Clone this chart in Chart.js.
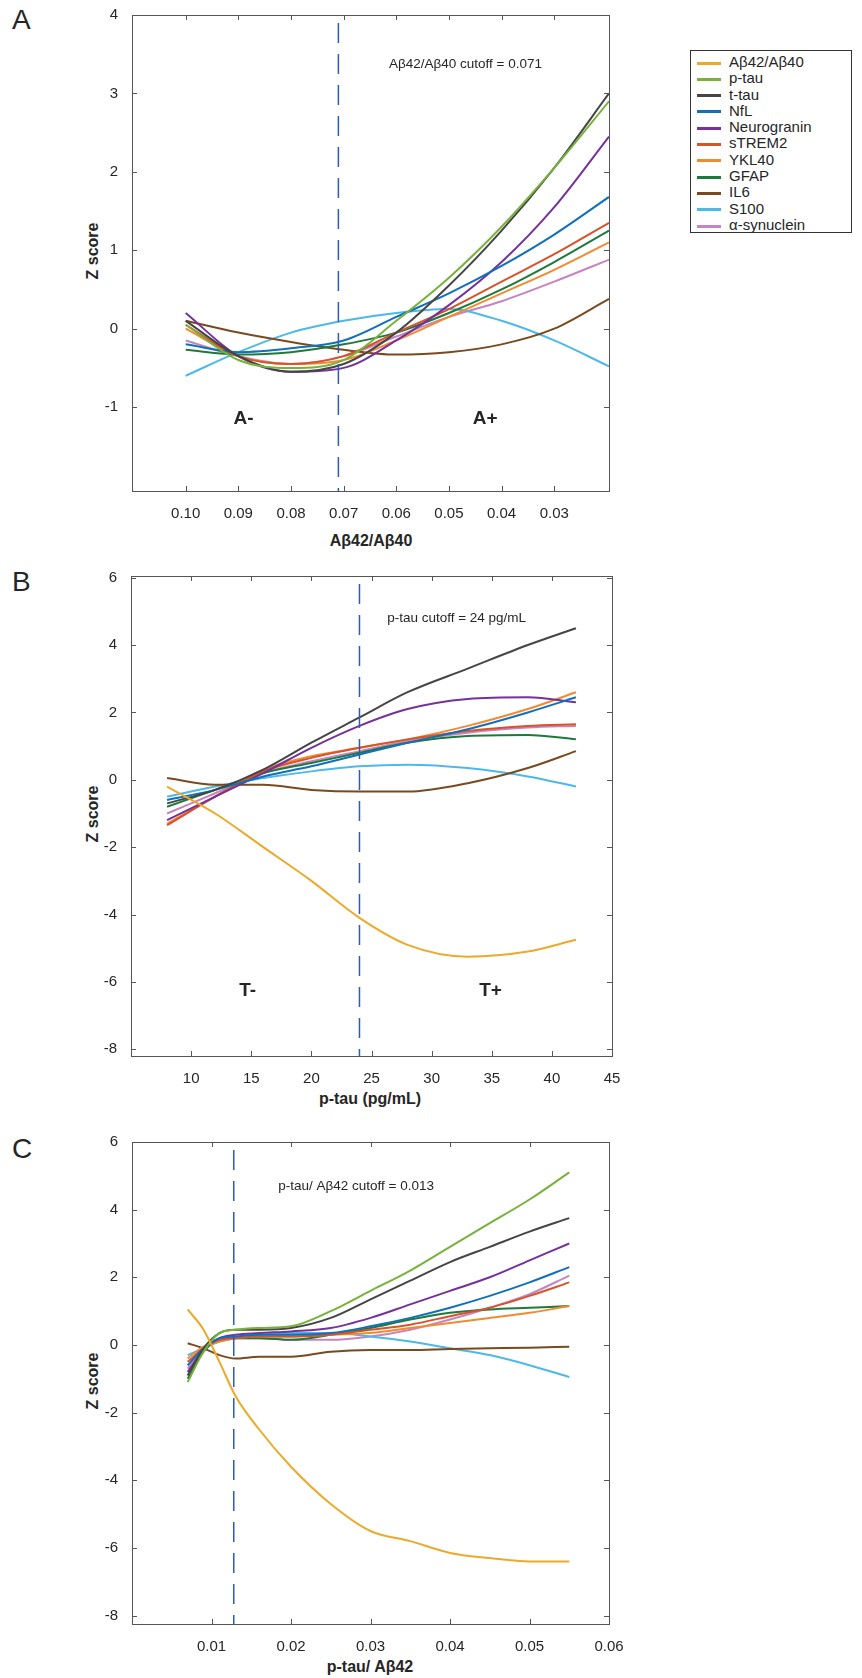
<!DOCTYPE html>
<html>
<head>
<meta charset="utf-8">
<script src="https://cdn.jsdelivr.net/npm/chart.js@4"></script>
<style>
  body { margin: 0; background: #fff; font-family: "Liberation Sans", Arial, sans-serif; color: #262626; }
  canvas { position: absolute; left: 0; }
  .lbl { position: absolute; font-size: 28px; }
  .ztitle { position: absolute; font-weight: bold; font-size: 16px; transform: translate(-50%, -50%) rotate(-90deg); white-space: nowrap; }
  .xtitle { position: absolute; font-weight: bold; font-size: 16px; transform: translate(-50%, -50%); white-space: nowrap; }
  #legend { position: absolute; left: 690px; top: 50px; width: 162px; height: 183px; border: 1px solid #333; box-sizing: border-box; padding: 3px 0 0 6px; }
  .li { height: 16.3px; font-size: 15px; line-height: 16.3px; white-space: nowrap; }
  .li span { display: inline-block; width: 24px; height: 3px; vertical-align: middle; margin-right: 8px; }
</style>
</head>
<body>
<div class="lbl" style="left:12px;top:4px">A</div>
<div class="lbl" style="left:12px;top:566px">B</div>
<div class="lbl" style="left:12px;top:1133px">C</div>
<div class="ztitle" style="left:93px;top:251px">Z score</div>
<div class="ztitle" style="left:93px;top:814px">Z score</div>
<div class="ztitle" style="left:93px;top:1381px">Z score</div>
<div class="xtitle" style="left:371px;top:541px">Aβ42/Aβ40</div>
<div class="xtitle" style="left:370px;top:1099px">p-tau (pg/mL)</div>
<div class="xtitle" style="left:370px;top:1667px">p-tau/ Aβ42</div>
<div id="legend"></div>
<canvas id="chartA" width="640" height="525" style="top:0px"></canvas>
<canvas id="chartB" width="640" height="546" style="top:540px"></canvas>
<canvas id="chartC" width="640" height="554" style="top:1100px"></canvas>
<script>
var names = ["Aβ42/Aβ40", "p-tau", "t-tau", "NfL", "Neurogranin", "sTREM2", "YKL40", "GFAP", "IL6", "S100", "α-synuclein"];
var colors = ["#EDA929", "#77B23A", "#454545", "#1170BA", "#74329A", "#D9532A", "#F28A30", "#1E7A3C", "#7A4A1E", "#4DB8EA", "#C585C2"];

// Panel A: x = Aβ42/Aβ40 (reversed axis)
var xA = [0.10, 0.09, 0.08, 0.07, 0.06, 0.05, 0.04, 0.03, 0.0196];
var aPtau = [0.05, -0.4, -0.5, -0.4, 0.1, 0.65, 1.3, 2.05, 2.9];
var aTtau = [0.1, -0.35, -0.55, -0.45, -0.05, 0.55, 1.25, 2.05, 3.0];
var aNfl = [-0.2, -0.3, -0.25, -0.15, 0.15, 0.45, 0.8, 1.2, 1.68];
var aNgrn = [0.2, -0.35, -0.55, -0.5, -0.15, 0.3, 0.85, 1.55, 2.45];
var aTrem = [0.05, -0.35, -0.45, -0.35, -0.05, 0.25, 0.6, 0.95, 1.35];
var aYkl = [0.0, -0.35, -0.45, -0.4, -0.15, 0.15, 0.45, 0.75, 1.1];
var aGfap = [-0.27, -0.33, -0.3, -0.2, -0.05, 0.2, 0.5, 0.85, 1.25];
var aIl6 = [0.1, -0.05, -0.17, -0.27, -0.33, -0.3, -0.2, 0.0, 0.38];
var aS100 = [-0.6, -0.3, -0.05, 0.1, 0.2, 0.25, 0.1, -0.15, -0.48];
var aSyn = [-0.15, -0.35, -0.45, -0.35, -0.1, 0.15, 0.35, 0.6, 0.88];
var ticksXA = [0.10, 0.09, 0.08, 0.07, 0.06, 0.05, 0.04, 0.03];
var ticksYA = [-1, 0, 1, 2, 3, 4];

// Panel B: x = p-tau (pg/mL)
var xB = [8, 12, 16, 20, 24, 28, 33, 38, 42];
var bAb = [-0.2, -1.0, -2.0, -3.0, -4.1, -4.9, -5.25, -5.1, -4.75];
var bTtau = [-0.7, -0.3, 0.3, 1.1, 1.85, 2.6, 3.3, 4.0, 4.5];
var bNfl = [-0.6, -0.3, 0.1, 0.4, 0.75, 1.1, 1.5, 2.0, 2.45];
var bNgrn = [-1.2, -0.5, 0.2, 0.95, 1.6, 2.1, 2.4, 2.45, 2.3];
var bTrem = [-1.35, -0.5, 0.25, 0.65, 0.95, 1.2, 1.45, 1.6, 1.65];
var bYkl = [-1.3, -0.5, 0.3, 0.7, 0.95, 1.2, 1.6, 2.1, 2.6];
var bGfap = [-0.8, -0.3, 0.2, 0.5, 0.8, 1.1, 1.3, 1.33, 1.2];
var bIl6 = [0.05, -0.15, -0.15, -0.3, -0.35, -0.35, -0.1, 0.35, 0.85];
var bS100 = [-0.5, -0.2, 0.05, 0.25, 0.4, 0.45, 0.35, 0.1, -0.2];
var bSyn = [-1.0, -0.4, 0.2, 0.55, 0.85, 1.15, 1.4, 1.55, 1.6];
var ticksXB = [10, 15, 20, 25, 30, 35, 40, 45];
var ticksYB = [-8, -6, -4, -2, 0, 2, 4, 6];

// Panel C: x = p-tau/Aβ42
var xC = [0.007, 0.009, 0.011, 0.013, 0.016, 0.02, 0.025, 0.03, 0.035, 0.04, 0.045, 0.05, 0.055];
var cAb = [1.05, 0.45, -0.5, -1.5, -2.5, -3.6, -4.7, -5.5, -5.8, -6.15, -6.3, -6.4, -6.4];
var cPtau = [-1.1, -0.2, 0.35, 0.45, 0.5, 0.55, 1.0, 1.6, 2.2, 2.9, 3.6, 4.3, 5.1];
var cTtau = [-0.9, -0.1, 0.35, 0.45, 0.45, 0.5, 0.8, 1.35, 1.9, 2.45, 2.9, 3.35, 3.75];
var cNfl = [-0.6, -0.1, 0.2, 0.25, 0.3, 0.3, 0.35, 0.55, 0.8, 1.1, 1.45, 1.85, 2.3];
var cNgrn = [-0.8, -0.15, 0.2, 0.3, 0.35, 0.4, 0.5, 0.8, 1.2, 1.6, 2.0, 2.5, 3.0];
var cTrem = [-0.5, -0.1, 0.15, 0.2, 0.25, 0.25, 0.3, 0.45, 0.6, 0.85, 1.1, 1.45, 1.85];
var cYkl = [-0.4, -0.05, 0.1, 0.2, 0.25, 0.25, 0.3, 0.35, 0.5, 0.65, 0.8, 0.95, 1.15];
var cGfap = [-1.0, -0.2, 0.15, 0.2, 0.2, 0.15, 0.3, 0.5, 0.75, 0.95, 1.05, 1.1, 1.15];
var cIl6 = [0.05, -0.1, -0.3, -0.4, -0.35, -0.35, -0.2, -0.15, -0.15, -0.12, -0.1, -0.08, -0.05];
var cS100 = [-0.3, -0.1, 0.1, 0.2, 0.3, 0.35, 0.35, 0.25, 0.1, -0.1, -0.3, -0.6, -0.95];
var cSyn = [-0.7, -0.1, 0.15, 0.2, 0.2, 0.15, 0.15, 0.25, 0.45, 0.75, 1.1, 1.5, 2.05];
var ticksXC = [0.01, 0.02, 0.03, 0.04, 0.05, 0.06];
var ticksYC = [-8, -6, -4, -2, 0, 2, 4, 6];

var FONT = "'Liberation Sans', Arial, sans-serif";

// legend
var leg = document.getElementById("legend");
names.forEach(function (n, i) {
  var d = document.createElement("div");
  d.className = "li";
  d.innerHTML = '<span style="background:' + colors[i] + '"></span>' + n;
  leg.appendChild(d);
});

function series(xs, ys, idx) {
  return {
    label: names[idx],
    data: xs.map(function (x, i) { return { x: x, y: ys[i] }; }),
    borderColor: colors[idx],
    borderWidth: 2,
    pointRadius: 0,
    fill: false,
    cubicInterpolationMode: "monotone"
  };
}

// box, inward ticks, cutoff line and text notes
var boxPlugin = {
  id: "box",
  afterDatasetsDraw: function (chart, args, opts) {
    var c = chart.ctx, a = chart.chartArea, sx = chart.scales.x, sy = chart.scales.y;
    c.save();
    // cutoff
    var px = sx.getPixelForValue(opts.cutoff);
    c.strokeStyle = "#2E5BB8";
    c.lineWidth = 1.5;
    c.setLineDash([20, 11]);
    c.beginPath();
    c.moveTo(px, a.top + 8);
    c.lineTo(px, a.bottom);
    c.stroke();
    c.setLineDash([]);
    // box
    c.strokeStyle = "#555";
    c.lineWidth = 1;
    c.strokeRect(a.left + 0.5, a.top + 0.5, a.right - a.left, a.bottom - a.top);
    c.beginPath();
    sx.ticks.forEach(function (t) {
      var x = Math.round(sx.getPixelForValue(t.value)) + 0.5;
      c.moveTo(x, a.bottom); c.lineTo(x, a.bottom - 5);
      c.moveTo(x, a.top); c.lineTo(x, a.top + 5);
    });
    sy.ticks.forEach(function (t) {
      var y = Math.round(sy.getPixelForValue(t.value)) + 0.5;
      c.moveTo(a.left, y); c.lineTo(a.left + 5, y);
      c.moveTo(a.right, y); c.lineTo(a.right - 5, y);
    });
    c.stroke();
    // notes
    c.fillStyle = "#262626";
    c.textBaseline = "middle";
    opts.notes.forEach(function (n) {
      c.font = (n.bold ? "bold 19px " : "13.5px ") + FONT;
      c.textAlign = n.align;
      c.fillText(n.text, sx.getPixelForValue(n.x), sy.getPixelForValue(n.y));
    });
    c.restore();
  }
};

function makeChart(id, datasets, cfg) {
  return new Chart(document.getElementById(id), {
    type: "line",
    data: { datasets: datasets },
    plugins: [boxPlugin],
    options: {
      responsive: false,
      animation: false,
      layout: { padding: { top: cfg.padTop, right: cfg.padRight, left: 0, bottom: 0 } },
      plugins: {
        legend: { display: false },
        tooltip: { enabled: false },
        box: { cutoff: cfg.cutoff, notes: cfg.notes }
      },
      scales: {
        x: {
          type: "linear",
          reverse: !!cfg.reverse,
          min: cfg.xmin, max: cfg.xmax,
          grid: { display: false },
          border: { display: false },
          afterBuildTicks: function (s) { s.ticks = cfg.xticks.map(function (v) { return { value: v }; }); },
          afterFit: function (s) { s.height = cfg.xh; },
          ticks: {
            color: "#262626", font: { family: FONT, size: 15 }, padding: 6, maxRotation: 0,
            callback: function (v) { return cfg.xfmt(v); }
          }
        },
        y: {
          min: cfg.ymin, max: cfg.ymax,
          grid: { display: false },
          border: { display: false },
          afterBuildTicks: function (s) { s.ticks = cfg.yticks.map(function (v) { return { value: v }; }); },
          afterFit: function (s) { s.width = cfg.yw; },
          ticks: { color: "#262626", font: { family: FONT, size: 15 }, padding: 6 }
        }
      }
    }
  });
}

makeChart("chartA", [
  series(xA, aPtau, 1), series(xA, aTtau, 2), series(xA, aNfl, 3), series(xA, aNgrn, 4),
  series(xA, aTrem, 5), series(xA, aYkl, 6), series(xA, aGfap, 7), series(xA, aIl6, 8),
  series(xA, aS100, 9), series(xA, aSyn, 10)
], {
  padTop: 13, padRight: 31, yw: 132, xh: 34, reverse: true,
  xmin: 0.0196, xmax: 0.1102, ymin: -2.07, ymax: 4,
  xticks: ticksXA, yticks: ticksYA, xfmt: function (v) { return v.toFixed(2); },
  cutoff: 0.071,
  notes: [
    { text: "Aβ42/Aβ40 cutoff = 0.071", x: 0.0614, y: 3.37, align: "left" },
    { text: "A-", x: 0.089, y: -1.15, align: "center", bold: true },
    { text: "A+", x: 0.0431, y: -1.15, align: "center", bold: true }
  ]
});

makeChart("chartB", [
  series(xB, bAb, 0), series(xB, bTtau, 2), series(xB, bNfl, 3), series(xB, bNgrn, 4),
  series(xB, bTrem, 5), series(xB, bYkl, 6), series(xB, bGfap, 7), series(xB, bIl6, 8),
  series(xB, bS100, 9), series(xB, bSyn, 10)
], {
  padTop: 36, padRight: 28, yw: 131, xh: 30,
  xmin: 5, xmax: 45, ymin: -8.2, ymax: 6.05,
  xticks: ticksXB, yticks: ticksYB, xfmt: function (v) { return String(v); },
  cutoff: 24,
  notes: [
    { text: "p-tau cutoff = 24 pg/mL", x: 26.3, y: 4.78, align: "left" },
    { text: "T-", x: 14.7, y: -6.26, align: "center", bold: true },
    { text: "T+", x: 34.9, y: -6.26, align: "center", bold: true }
  ]
});

makeChart("chartC", [
  series(xC, cAb, 0), series(xC, cPtau, 1), series(xC, cTtau, 2), series(xC, cNfl, 3),
  series(xC, cNgrn, 4), series(xC, cTrem, 5), series(xC, cYkl, 6), series(xC, cGfap, 7),
  series(xC, cIl6, 8), series(xC, cS100, 9), series(xC, cSyn, 10)
], {
  padTop: 42, padRight: 31, yw: 132, xh: 30,
  xmin: 0, xmax: 0.06, ymin: -8.25, ymax: 6,
  xticks: ticksXC, yticks: ticksYC, xfmt: function (v) { return v.toFixed(2); },
  cutoff: 0.0128,
  notes: [
    { text: "p-tau/ Aβ42 cutoff = 0.013", x: 0.0184, y: 4.7, align: "left" }
  ]
});
</script>
</body>
</html>
